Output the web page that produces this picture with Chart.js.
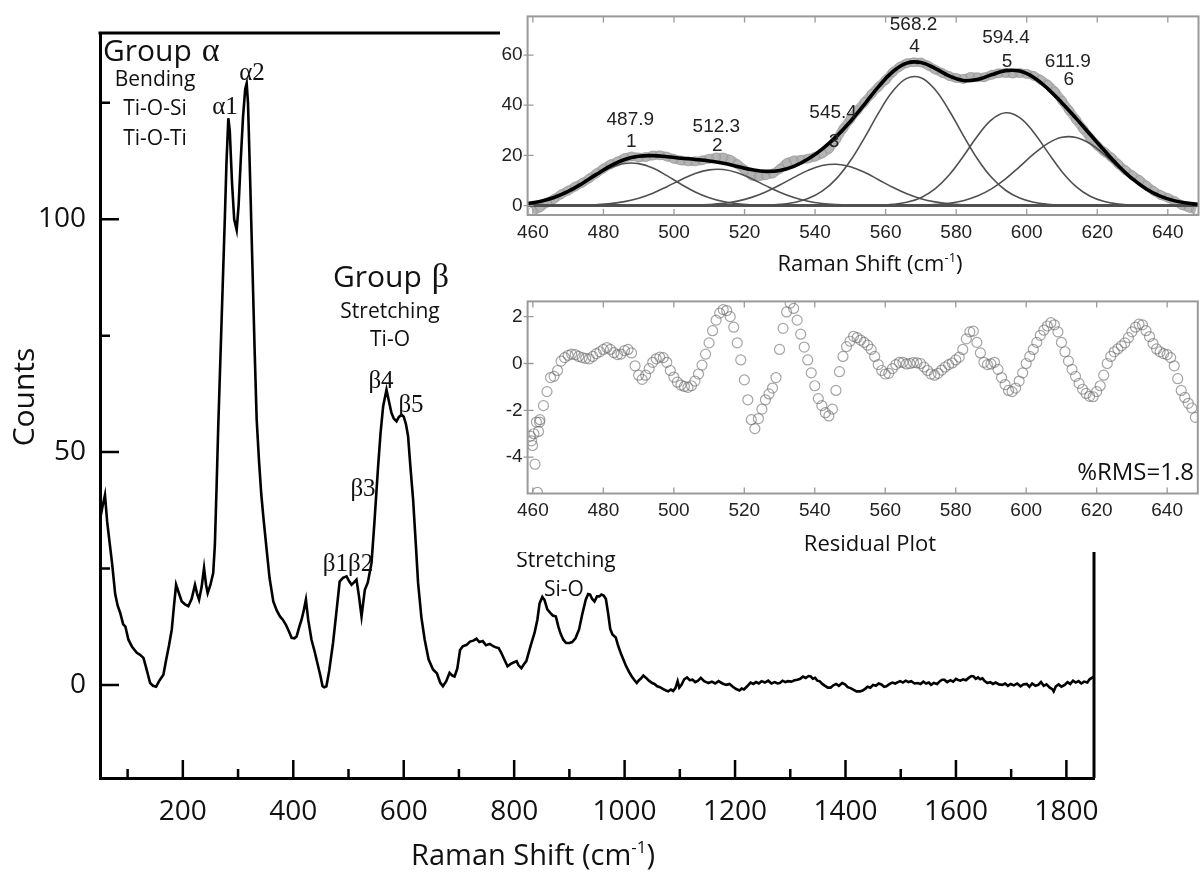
<!DOCTYPE html>
<html>
<head>
<meta charset="utf-8">
<script src="https://cdn.jsdelivr.net/npm/chart.js@4.4.1/dist/chart.umd.min.js"></script>
<style>
html, body { margin: 0; padding: 0; background: #fff; }
body { width: 1204px; height: 876px; position: relative; overflow: hidden; }
canvas { position: absolute; }
#main { left: 0; top: 0; }
#cover { position: absolute; left: 500px; top: 0; width: 704px; height: 552px; background: #fff; }
#fit { left: 500px; top: 0; }
#resid { left: 500px; top: 285px; }
</style>
</head>
<body>
<canvas id="main" width="1204" height="876"></canvas>
<div id="cover"></div>
<canvas id="fit" width="704" height="285"></canvas>
<canvas id="resid" width="704" height="275"></canvas>
<script>
// main Raman spectrum
const shift = [50,54,59,63,67,72,77.5,82,86.5,92,96,101.5,108,116.7,122,128.7,134,140.8,146,151.6,158,164.8,170,175,180,184,187.8,192,198,204,210,216,222,226,229.4,234,238.4,242,245,250,255,258,261,264,268,272,276,279,282.4,285,289,293,297.5,301,305,309,313,315.6,318,322,326,330,333.7,338,342,345.7,351.8,357,363.8,370,375.9,381,386.7,392,397,402,406,411,415,419,422.9,427,433,439,445,449,453,456,460,465,472,478,484,490,496.5,501,505.5,510,514.5,519,523.6,527,529.6,535,541.7,547,553.6,558,562.7,568.8,573,577.8,582,587,591,596,600,604,607.9,612,617,622,626,632,638,645,653,660,666,671,677,683,688,692,697,702,707,714,720,726,731.7,737,743,749,756,762,768,772,777,782,788,795,804.5,808,813,818,822,830,837,842,846,851,855,860,865,870,875.5,880,884,889,894,900,905,911,917.5,923,929.6,934,937.5,941,945.5,950,954,958,962,966,970,974,978,984,988,994,1002,1008,1013,1018,1022,1026,1030,1034,1039,1044,1050,1054,1059,1064,1070,1075,1079,1084,1088,1092,1096,1099,1103,1108,1113,1118,1123,1128,1133,1138,1144,1148,1152,1158,1164,1170,1177,1184,1190,1196,1202,1208,1212,1216,1222,1228,1233,1238,1243,1248,1254,1260,1266,1272,1277,1281,1286,1291,1296,1302,1308,1313,1318,1323,1328,1333,1337,1341,1345,1349,1353,1358,1363,1368,1373,1378,1383,1388,1394,1399,1404,1409,1414,1420,1426,1431,1436,1440,1445,1450,1455,1460,1465,1470,1474,1480,1485,1490,1495,1499,1504,1509,1514,1519,1525,1531,1536,1541,1546,1551,1555,1560,1566,1571,1575,1579,1584,1590,1595,1600,1603,1608,1613,1618,1623,1628,1632,1636,1640,1644,1648,1652,1657,1662,1667,1672,1678,1684,1689,1694,1699,1705,1711,1717,1722,1728,1733,1738,1744,1749,1754,1759,1764,1770,1775,1777,1781,1786,1791,1797,1802,1807,1812,1817,1822,1827,1832,1838,1842,1846,1850];
const counts = [35.5,38,40.8,35,31,26,19.5,17,15.5,13,12.5,9.7,8.2,6.9,6.5,5.8,3.5,0.4,-0.2,-0.4,1,2.2,5.5,8.5,11.9,17,21.5,20,17.9,17.3,16.9,18.5,21.5,19.5,18.3,21,25.1,21.5,19.7,21.5,24,30,42,55,70,85,100,112,121.7,119,108,100,97.7,103,113,122,128,129.2,125,108,90,72,57,48,41,36.2,29,23,17.9,16,14.7,14,12.9,11.5,10.1,10,10.4,12.5,14,16,18.3,14,9.7,7,4,2,-0.3,-0.5,-0.3,3,9,15.5,22.2,23,23.3,22.3,21.5,22,22.6,19,14.7,18,20.4,22,26.2,35,46.9,54,59.8,63.4,61,58.4,57.2,56.6,57.5,58,57.6,56,53.4,47,39.8,30,21.9,14.5,9.7,5.5,3.3,2.5,0.5,-0.3,0.8,2.6,2,1.8,3.5,7.5,8.3,8.6,9.3,9.5,9.9,9.2,9.4,8.5,8.8,8.3,8.0,7.9,6.8,5.5,4,4.6,5.1,4.2,3.6,4.5,5.1,8.5,11.2,14,17.5,18.9,18.2,16.2,15.5,14.9,14.7,12.5,11,9.7,9.0,9.0,9.2,10,11.9,15,18.3,19.5,19.4,18.5,17.9,19,19,19.4,19.2,18.5,15.5,12,10.8,10.2,8.5,6.5,4.2,2.8,1.8,1.0,0.4,1.0,1.4,2.0,1.5,0.9,0.4,0.2,-0.3,-0.5,-0.9,-1.2,-1.4,-1.0,-1.3,-0.7,0.8,-0.6,0,1.2,1.6,1.0,1.1,0.6,0.9,1.5,0.8,0.6,0.4,0.7,0.3,0.8,0.3,0,0.2,-0.4,-0.9,-1.2,-0.8,-1.0,-0.3,0.5,0.2,0.6,0.3,0.8,0.5,0.9,0.3,0.6,0.3,0.4,0.9,0.6,0.8,0.7,1.0,1.1,1.3,1.8,1.5,1.9,1.8,1.3,1.5,0.9,0.8,0.2,-0.2,-0.6,-0.6,-0.1,0.2,-0.2,0.4,0.1,-0.5,-0.7,-1.0,-1.4,-1.4,-1.2,-0.8,-0.4,-0.6,0,-0.2,0.3,0.1,-0.4,-0.3,0.2,0.5,0.3,0.6,0.8,0.5,0.9,0.6,0.8,0.3,0.4,0.2,0.7,0.3,0.5,0,0.4,0.2,0.8,1.1,1.1,0.6,1.0,0.7,1.3,1.1,0.9,1.2,1.0,1.5,1.9,1.8,1.3,1.6,1.2,1.4,0.8,0.4,0.6,0.2,0.5,0.1,0,0.3,-0.2,0.2,-0.1,0.3,-0.3,0.1,0.2,-0.4,0.3,-0.2,0,0.6,-0.2,0.1,-0.6,-1.0,-1.4,-0.3,0.1,-0.4,0,0.6,0.2,0.9,0.5,0.8,0.3,0.7,0.5,1.2,1.5,1.8];
const mainMajorX = [200,400,600,800,1000,1200,1400,1600,1800];
const mainMinorX = [100,300,500,700,900,1100,1300,1500,1700];
const mainMajorY = [0,50,100];
const mainMinorY = [25,75,125];

// inset: peak fit on a 4 cm-1 grid from 458
const gridStart = 458, gridStep = 4;
const comp1 = [0.76,1.66,3.21,5.59,8.69,12.1,15.06,16.79,16.74,14.94,11.93,8.52,5.45,3.12,1.6,0.73,0.3,0.11,0.04,0,0,0,0,0,0,0,0,0,0,0,0,0,0,0,0,0,0,0,0,0,0,0,0,0,0,0,0,0,0];
const comp2 = [0,0,0.02,0.05,0.13,0.34,0.77,1.59,2.95,4.96,7.54,10.32,12.77,14.25,14.37,13.07,10.73,7.95,5.32,3.21,1.75,0.86,0.38,0.15,0.06,0.02,0,0,0,0,0,0,0,0,0,0,0,0,0,0,0,0,0,0,0,0,0,0,0];
const comp3 = [0,0,0,0,0,0,0,0,0,0.01,0.02,0.06,0.17,0.41,0.89,1.79,3.27,5.42,8.18,11.23,14.03,15.95,16.48,15.5,13.26,10.32,7.3,4.7,2.75,1.47,0.71,0.31,0.13,0.05,0.02,0,0,0,0,0,0,0,0,0,0,0,0,0,0];
const comp4 = [0,0,0,0,0,0,0,0,0,0,0,0,0,0,0,0.02,0.06,0.17,0.48,1.22,2.78,5.73,10.64,17.85,27.02,36.92,45.54,50.71,50.97,46.25,37.88,28.0,18.69,11.26,6.12,3.0,1.33,0.53,0.19,0.06,0.02,0,0,0,0,0,0,0,0];
const comp5 = [0,0,0,0,0,0,0,0,0,0,0,0,0,0,0,0,0,0,0,0,0,0,0,0.01,0.04,0.16,0.48,1.32,3.16,6.62,12.17,19.6,27.64,34.15,36.98,35.07,29.15,21.21,13.53,7.56,3.7,1.59,0.6,0.2,0.06,0.01,0,0,0];
const comp6 = [0,0,0,0,0,0,0,0,0,0,0,0,0,0,0,0,0,0,0,0,0,0,0,0,0,0,0.02,0.05,0.15,0.39,0.92,1.95,3.78,6.66,10.66,15.53,20.58,24.81,27.21,27.14,24.63,20.34,15.27,10.43,6.48,3.67,1.88,0.88,0.38];
const fitSum = [0.76,1.66,3.23,5.64,8.82,12.44,15.83,18.38,19.69,19.91,19.49,18.9,18.39,17.78,16.86,15.61,14.36,13.65,14.02,15.66,18.56,22.54,27.5,33.51,40.38,47.42,53.34,56.78,57.03,54.73,51.68,49.86,50.24,52.12,53.78,53.6,51.06,46.55,40.93,34.76,28.35,21.93,15.87,10.63,6.54,3.68,1.88,0.88,0.38];
// measured points in the inset, 2 cm-1 grid from 460
const measStart = 460, measStep = 2;
const measured = [-2.25,-0.74,1.2,2.68,4.5,5.99,7.58,9.07,10.85,12.86,14.8,16.43,17.58,18.93,19.6,19.19,19.35,19.96,20.02,19.54,18.62,17.98,17.63,17.64,18.03,18.66,19.2,19.16,18.25,16.49,14.3,11.96,11.65,12.1,12.75,14.62,17.0,18.01,18.25,18.71,19.45,20.74,22.66,26.35,30.7,34.46,38.0,41.28,44.5,47.37,50.05,53.12,55.35,56.76,57.14,57.03,55.8,54.23,52.92,51.63,50.85,50.46,51.3,51.14,51.15,52.1,52.75,52.88,52.6,52.85,52.5,51.66,50.1,48.15,45.45,41.83,38.0,34.21,30.5,26.95,23.9,21.43,19.2,16.49,14.08,11.98,10.18,7.94,5.85,4.18,3.08,1.78,0.15,-0.82,-1.7];
const peakPos = [487.9,512.3,545.4,568.2,594.4,611.9];
const insetTicksX = [460,480,500,520,540,560,580,600,620,640];
const fitTicksY = [0,20,40,60];

// residuals, 1 cm-1 grid from 462, plus the scattered first points
const residEdgeX = [459.3,459.6,459.9,460.3,460.6,461.0,461.3,461.6,461.9];
const residEdgeY = [-3.1,-3.3,-3.5,-3.0,-4.3,-2.5,-5.5,-2.9,-2.5];
const residStart = 462;
const resid = [-2.4,-1.8,-1.2,-0.6,-0.55,-0.3,0.1,0.25,0.35,0.4,0.38,0.3,0.25,0.22,0.2,0.3,0.42,0.5,0.6,0.68,0.6,0.46,0.38,0.4,0.55,0.6,0.45,-0.1,-0.5,-0.68,-0.5,-0.22,0.05,0.2,0.27,0.25,0.05,-0.3,-0.58,-0.8,-0.92,-0.98,-1.02,-0.95,-0.75,-0.45,-0.07,0.4,0.88,1.4,1.85,2.15,2.3,2.26,2.0,1.55,0.88,0.15,-0.7,-1.55,-2.4,-2.78,-2.35,-1.95,-1.55,-1.3,-1.05,-0.6,0.6,1.5,2.2,2.58,2.35,1.85,1.25,0.7,0.15,-0.4,-0.95,-1.5,-1.8,-2.1,-2.24,-1.95,-1.15,-0.35,0.3,0.72,0.95,1.16,1.1,1.0,0.9,0.78,0.6,0.3,-0.05,-0.3,-0.45,-0.42,-0.22,-0.05,0.05,0.05,-0.02,0,0.04,0.03,0,-0.15,-0.3,-0.45,-0.5,-0.42,-0.28,-0.15,-0.05,0.02,0.15,0.27,0.6,1.05,1.35,1.38,0.9,0.45,0.05,-0.05,-0.02,0.05,-0.25,-0.6,-0.9,-1.15,-1.2,-1.05,-0.75,-0.4,0,0.3,0.6,0.9,1.2,1.42,1.6,1.74,1.65,1.35,0.9,0.5,0.1,-0.25,-0.55,-0.85,-1.1,-1.28,-1.4,-1.42,-1.2,-0.95,-0.5,0,0.3,0.5,0.62,0.75,0.88,1.1,1.35,1.55,1.68,1.65,1.4,1.15,0.85,0.62,0.5,0.42,0.38,0.25,-0.1,-0.65,-1.15,-1.45,-1.7,-1.9,-2.3];
const residTicksY = [2,0,-2,-4];

const SANS = '"Open Sans", "DejaVu Sans", sans-serif';
const SERIF = '"Liberation Serif", "DejaVu Serif", serif';
const ARIAL = '"Liberation Sans", Arial, sans-serif';

function onGrid(start, step, ys) {
  return ys.map((y, i) => ({ x: start + i * step, y: y }));
}

function text(ctx, s, x, y, font, align) {
  ctx.font = font;
  ctx.textAlign = align || 'center';
  ctx.textBaseline = 'middle';
  ctx.fillText(s, x, y);
}

// "Raman Shift (cm-1)" with a raised -1
function shiftTitle(ctx, cx, cy, size) {
  const base = size + 'px ' + SANS, small = Math.round(size * 0.6) + 'px ' + SANS;
  ctx.font = base; const a = ctx.measureText('Raman Shift (cm').width, c = ctx.measureText(')').width;
  ctx.font = small; const b = ctx.measureText('-1').width;
  let x = cx - (a + b + c) / 2;
  ctx.textAlign = 'left'; ctx.textBaseline = 'middle';
  ctx.font = base; ctx.fillText('Raman Shift (cm', x, cy);
  ctx.font = small; ctx.fillText('-1', x + a, cy - size * 0.32);
  ctx.font = base; ctx.fillText(')', x + a + b, cy);
}

// "Group" in sans followed by a serif greek letter
function groupTitle(ctx, s, x, y) {
  ctx.textAlign = 'left'; ctx.textBaseline = 'alphabetic';
  ctx.font = '30px ' + SANS;
  ctx.fillText('Group', x, y);
  const w = ctx.measureText('Group').width;
  ctx.font = '34px ' + SERIF;
  ctx.fillText(s, x + w + 10, y);
}

const mainDecor = {
  id: 'mainDecor',
  afterDraw(chart) {
    const ctx = chart.ctx, a = chart.chartArea, sx = chart.scales.x, sy = chart.scales.y;
    ctx.save();
    ctx.strokeStyle = '#000';
    ctx.lineWidth = 3;
    ctx.beginPath();
    ctx.moveTo(a.left - 1.5, a.top); ctx.lineTo(a.right, a.top); ctx.lineTo(a.right, a.bottom);
    ctx.stroke();
    ctx.lineWidth = 2.5;
    ctx.beginPath();
    mainMajorX.forEach(v => { const p = sx.getPixelForValue(v); ctx.moveTo(p, a.bottom); ctx.lineTo(p, a.bottom - 18); });
    mainMinorX.forEach(v => { const p = sx.getPixelForValue(v); ctx.moveTo(p, a.bottom); ctx.lineTo(p, a.bottom - 9); });
    mainMajorY.forEach(v => { const p = sy.getPixelForValue(v); ctx.moveTo(a.left, p); ctx.lineTo(a.left + 19, p); });
    mainMinorY.forEach(v => { const p = sy.getPixelForValue(v); ctx.moveTo(a.left, p); ctx.lineTo(a.left + 10, p); });
    ctx.stroke();

    ctx.fillStyle = '#111';
    groupTitle(ctx, 'α', 103, 61);
    groupTitle(ctx, 'β', 333, 287);
    text(ctx, 'Bending', 155, 80, '21px ' + SANS);
    text(ctx, 'Ti-O-Si', 155, 109, '21px ' + SANS);
    text(ctx, 'Ti-O-Ti', 155, 139, '21px ' + SANS);
    text(ctx, 'Stretching', 390, 312, '21px ' + SANS);
    text(ctx, 'Ti-O', 390, 340, '21px ' + SANS);
    text(ctx, 'Stretching', 566, 561, '21px ' + SANS);
    text(ctx, 'Si-O', 564, 590, '21px ' + SANS);
    const g = '25px ' + SERIF;
    text(ctx, 'α1', 225, 107, g);
    text(ctx, 'α2', 252, 73, g);
    text(ctx, 'β4', 381, 381, g);
    text(ctx, 'β5', 411, 405, g);
    text(ctx, 'β3', 363, 489, g);
    text(ctx, 'β1β2', 348, 564, g);

    shiftTitle(ctx, 533, 857, 29);
    ctx.translate(25, 397); ctx.rotate(-Math.PI / 2);
    text(ctx, 'Counts', 0, 0, '30px ' + SANS);
    ctx.restore();
  }
};

new Chart(document.getElementById('main'), {
  type: 'line',
  data: {
    datasets: [{
      data: shift.map((x, i) => ({ x: x, y: counts[i] })),
      borderColor: '#000', borderWidth: 2.6, pointRadius: 0, tension: 0
    }]
  },
  options: {
    responsive: false, animation: false,
    layout: { padding: { left: 0, right: 110, top: 33, bottom: 0 } },
    plugins: { legend: { display: false }, tooltip: { enabled: false } },
    scales: {
      x: {
        type: 'linear', min: 50, max: 1850,
        afterBuildTicks(s) { s.ticks = mainMajorX.map(v => ({ value: v })); },
        afterFit(s) { s.height = 98; },
        grid: { display: false, drawTicks: false },
        border: { display: true, color: '#000', width: 3 },
        ticks: { color: '#111', font: { family: SANS, size: 28 }, padding: 17, maxRotation: 0, callback: v => String(v) }
      },
      y: {
        min: -20, max: 140,
        afterBuildTicks(s) { s.ticks = mainMajorY.map(v => ({ value: v })); },
        afterFit(s) { s.width = 100; },
        grid: { display: false, drawTicks: false },
        border: { display: true, color: '#000', width: 3 },
        ticks: { color: '#111', font: { family: SANS, size: 28 }, padding: 14, callback: v => String(v) }
      }
    }
  },
  plugins: [mainDecor]
});

function insetFrame(ticksY, extra) {
  return {
    id: 'insetFrame',
    afterDraw(chart) {
      const ctx = chart.ctx, a = chart.chartArea, sx = chart.scales.x, sy = chart.scales.y;
      ctx.save();
      ctx.strokeStyle = '#9a9a9a';
      ctx.lineWidth = 2;
      ctx.strokeRect(a.left, a.top, a.right - a.left, a.bottom - a.top);
      ctx.lineWidth = 1.3;
      ctx.beginPath();
      insetTicksX.forEach(v => {
        const p = sx.getPixelForValue(v);
        ctx.moveTo(p, a.bottom); ctx.lineTo(p, a.bottom - 6);
        ctx.moveTo(p, a.top); ctx.lineTo(p, a.top + 6);
      });
      ticksY.forEach(v => {
        const p = sy.getPixelForValue(v);
        ctx.moveTo(a.left - 4, p); ctx.lineTo(a.left + 6, p);
      });
      ctx.stroke();
      ctx.fillStyle = '#222';
      extra(ctx, chart);
      ctx.restore();
    }
  };
}

function insetScales(ymin, ymax, ticksY, xh) {
  return {
    x: {
      type: 'linear', min: 458.5, max: 648.7,
      afterBuildTicks(s) { s.ticks = insetTicksX.map(v => ({ value: v })); },
      afterFit(s) { s.height = xh; },
      grid: { display: false, drawTicks: false },
      border: { display: false },
      ticks: { color: '#222', font: { family: ARIAL, size: 19 }, padding: 6, maxRotation: 0 }
    },
    y: {
      min: ymin, max: ymax,
      afterBuildTicks(s) { s.ticks = ticksY.map(v => ({ value: v })); },
      afterFit(s) { s.width = 27.6; },
      grid: { display: false, drawTicks: false },
      border: { display: false },
      ticks: { color: '#222', font: { family: ARIAL, size: 19 }, padding: 5 }
    }
  };
}

const compLine = c => ({ data: onGrid(gridStart, gridStep, c), borderColor: '#505050', borderWidth: 1.6, pointRadius: 0, tension: 0.4 });

new Chart(document.getElementById('fit'), {
  type: 'line',
  data: {
    datasets: [
      { data: onGrid(gridStart, gridStep, fitSum), borderColor: '#000', borderWidth: 3.6, pointRadius: 0, tension: 0.4 },
      { data: [{ x: 458, y: 0 }, { x: 650, y: 0 }], borderColor: '#505050', borderWidth: 3, pointRadius: 0 },
      compLine(comp1), compLine(comp2), compLine(comp3), compLine(comp4), compLine(comp5), compLine(comp6),
      {
        data: onGrid(measStart, measStep, measured), borderColor: 'rgba(172,172,172,0.9)', borderWidth: 9,
        pointRadius: 4.5, pointBorderWidth: 1, pointBorderColor: 'rgba(140,140,140,0.55)',
        pointBackgroundColor: 'rgba(0,0,0,0)', tension: 0.3
      }
    ]
  },
  options: {
    responsive: false, animation: false,
    layout: { padding: { left: 0, right: 0, top: 15, bottom: 0 } },
    plugins: { legend: { display: false }, tooltip: { enabled: false } },
    scales: insetScales(-3.75, 75.4, fitTicksY, 70)
  },
  plugins: [insetFrame(fitTicksY, (ctx, chart) => {
    const sx = chart.scales.x;
    const labelY = [[120, 142], [127, 146], [113, 142], [25, 47], [38, 62], [62, 80]];
    peakPos.forEach((p, i) => {
      const px = sx.getPixelForValue(p);
      text(ctx, p.toFixed(1), px - 1, labelY[i][0], '19px ' + ARIAL);
      text(ctx, String(i + 1), px, labelY[i][1], '19px ' + ARIAL);
    });
    ctx.fillStyle = '#111';
    shiftTitle(ctx, 370, 265, 22);
  })]
});

new Chart(document.getElementById('resid'), {
  type: 'scatter',
  data: {
    datasets: [{
      data: residEdgeX.map((x, i) => ({ x: x, y: residEdgeY[i] })).concat(onGrid(residStart, 1, resid)),
      pointRadius: 5, pointBorderWidth: 1.2, pointBorderColor: 'rgba(105,105,105,0.6)',
      pointBackgroundColor: 'rgba(0,0,0,0)', showLine: false
    }]
  },
  options: {
    responsive: false, animation: false,
    layout: { padding: { left: 0, right: 0, top: 9, bottom: 0 } },
    plugins: { legend: { display: false }, tooltip: { enabled: false } },
    scales: insetScales(-5.55, 2.65, residTicksY, 66.5)
  },
  plugins: [insetFrame(residTicksY, (ctx) => {
    ctx.fillStyle = '#111';
    text(ctx, '%RMS=1.8', 694, 188, '24px ' + SANS, 'right');
    text(ctx, 'Residual Plot', 370, 260, '22px ' + SANS);
  })]
});
</script>
</body>
</html>
